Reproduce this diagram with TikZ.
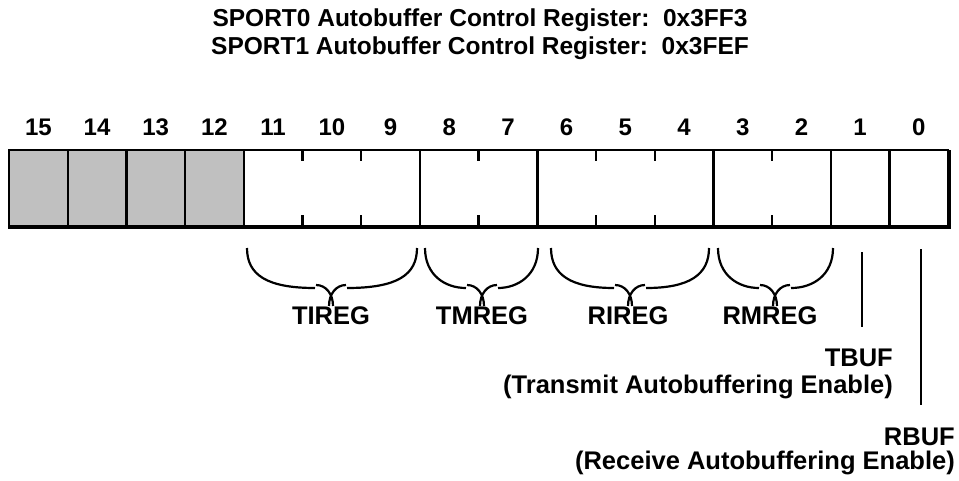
\documentclass[tikz,border=0pt]{standalone}
\usepackage{fontspec}
\setmainfont{Liberation Sans}
\begin{document}
\begin{tikzpicture}[x=1pt,y=-1pt,
  lbl/.style={font=\fontsize{25.5}{28}\selectfont\bfseries, inner sep=0pt},
  ttl/.style={font=\fontsize{24.5}{28}\selectfont\bfseries, inner sep=0pt},
  bitnum/.style={font=\fontsize{24}{26}\selectfont\bfseries, inner sep=0pt},
  reg/.style={line width=2.4pt},
  tick/.style={line width=2.4pt},
  brc/.style={line width=2.2pt, line cap=butt}]
\useasboundingbox (0,0) rectangle (959,480);
\def\L{9}\def\W{58.7}\def\T{150}\def\B{226}
% title
\node[ttl] (t1) at (480,20.5) {SPORT0 Autobuffer Control Register:\ \ 0x3FF3};
\node[ttl] (t2) at (480,48) {SPORT1 Autobuffer Control Register:\ \ 0x3FEF};
% gray reserved bits
\fill[fill={rgb,255:red,192;green,192;blue,192}] (\L,\T) rectangle ({\L+4*\W},\B);
% bit numbers
\foreach \b in {0,...,15}{
  \node[bitnum] (n\b) at ({\L+(15-\b+0.5)*\W},127) {\b};
}
% outline
\draw[reg] (\L,\T) rectangle ({\L+16*\W},\B);
\draw[line width=4.5pt] ({\L-1},{\B+1}) -- ({\L+16*\W+1},{\B+1}) -- ({\L+16*\W+1},\T);
% full separators
\foreach \k in {1,2,3,4,7,9,12,14,15}{
  \draw[reg] ({\L+\k*\W},\T) -- ({\L+\k*\W},\B);
}
% ticks
\foreach \k in {5,6,8,10,11,13}{
  \draw[tick] ({\L+\k*\W},\T) -- ({\L+\k*\W},{\T+11});
  \draw[tick] ({\L+\k*\W},\B) -- ({\L+\k*\W},{\B-11});
}
% braces
\newcommand{\mybrace}[3]{% left x, right x, cusp x
  \draw[brc] (#1,248) .. controls (#1,275) and ({#1+20},288) .. ({#3-16},288);
  \draw[brc] (#2,248) .. controls (#2,275) and ({#2-20},288) .. ({#3+16},288);
  \draw[brc] ({#3-15},285) .. controls ({#3-5},285) and ({#3+2},294) .. ({#3+2},306);
  \draw[brc] ({#3+15},285) .. controls ({#3+5},285) and ({#3-2},294) .. ({#3-2},306);
}
\mybrace{247}{417}{331}
\mybrace{425}{538}{482}
\mybrace{551}{709}{630}
\mybrace{718}{833}{775}
% labels
\node[lbl] (tireg) at (331,316) {TIREG};
\node[lbl] (tmreg) at (482,316) {TMREG};
\node[lbl] (rireg) at (628,316) {RIREG};
\node[lbl] (rmreg) at (770,316) {RMREG};
\node[lbl, anchor=east] (tbuf) at (893,358) {TBUF};
\node[lbl, anchor=east] (tbufd) at (893,387) {(Transmit Autobuffering Enable)};
\node[lbl, anchor=east] (rbuf) at (955,437) {RBUF};
\node[lbl, anchor=east] (rbufd) at (955,463) {(Receive Autobuffering Enable)};
% bit lines
\coordinate (tb1) at (862,252);
\coordinate (tb2) at (862,327);
\coordinate (rb1) at (921,249);
\coordinate (rb2) at (921,405);
\draw[reg] (tb1) -- (tb2);
\draw[reg] (rb1) -- (rb2);
\end{tikzpicture}
\end{document}
